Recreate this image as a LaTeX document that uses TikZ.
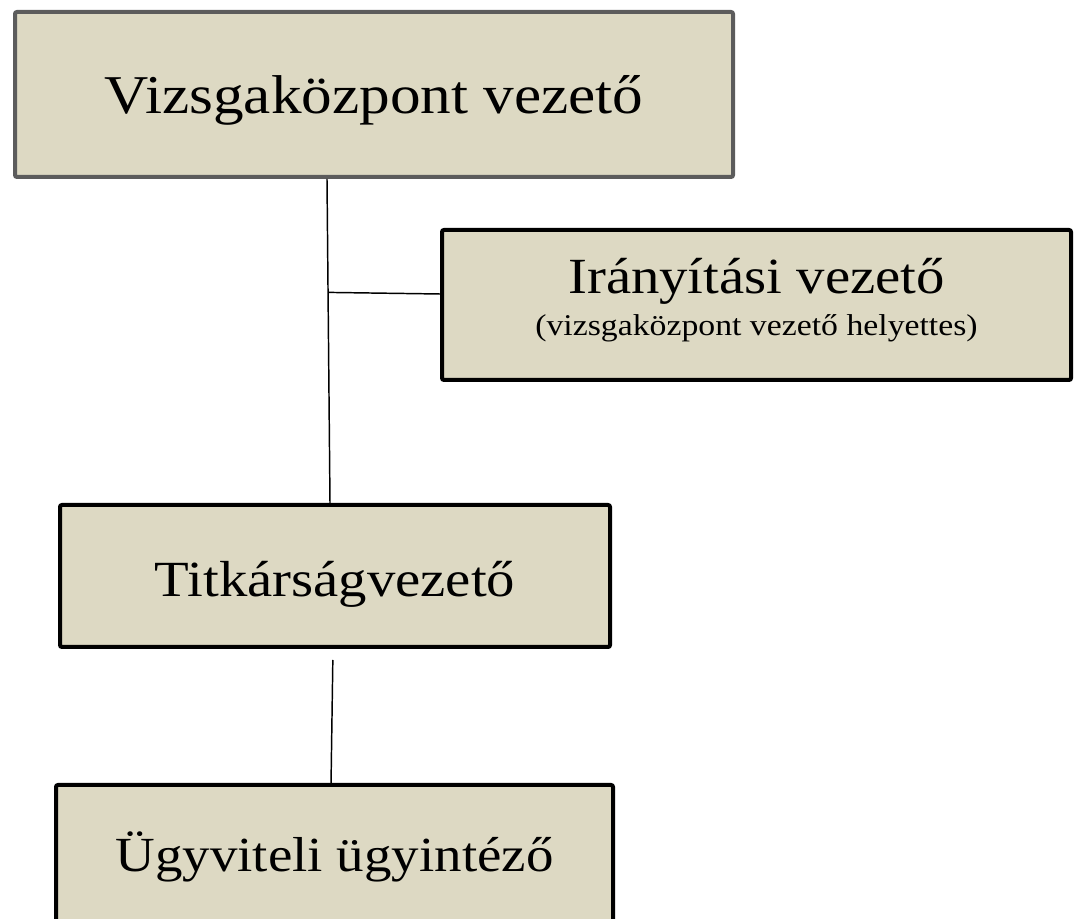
\documentclass[tikz,border=0pt]{standalone}
\usepackage{fontspec}
\setmainfont{Liberation Serif}[FakeStretch=1.12]
\usetikzlibrary{positioning}
\definecolor{boxfill}{HTML}{DDD9C3}
\definecolor{boxgray}{HTML}{5C5C5C}

\begin{document}
\begin{tikzpicture}
		[x=0.75pt,y=-0.75pt,
		unit node/.style={draw=black,line width=3pt,fill=boxfill,shape=rectangle,rounded corners=1.5pt,inner sep=0pt,font=\fontsize{38}{32}\selectfont},
		link/.style={line width=1.1pt}]
		\useasboundingbox (0,0) rectangle (1083,919);
		
		\node[unit node,draw=boxgray,minimum width=538.5pt,minimum height=123.75pt,font=\fontsize{41}{48}\selectfont,text height=36pt,text depth=8pt] (vk) at (374,94.5) {Vizsgaközpont vezető};
		\node[unit node,minimum width=471.75pt,minimum height=112.5pt,align=center,text depth=12pt] (iv) at (756.5,305) {Irányítási vezető\\{\fontsize{22.6}{32}\selectfont (vizsgaközpont vezető helyettes)}};
		\node[unit node,minimum width=412.5pt,minimum height=106.5pt,text height=38pt,text depth=7pt] (tv) at (335,576) {Titkárságvezető};
		\node[unit node,minimum width=417.75pt,minimum height=106.5pt,font=\fontsize{36.8}{32}\selectfont,text height=31pt,text depth=7.5pt] (uu) at (334.5,856) {Ügyviteli ügyintéző};
		
		\draw[link] ([xshift=-35.25pt]vk.south) to coordinate[pos=.35] (ag) ([xshift=-3.75pt]tv.north);
		\draw[link] (ag) to ([yshift=8.25pt]iv.west);
		\draw[link,shorten <=8.25pt] ([xshift=-1.5pt]tv.south) to ([xshift=-2.6pt]uu.north);
		\end{tikzpicture}
\end{document}
